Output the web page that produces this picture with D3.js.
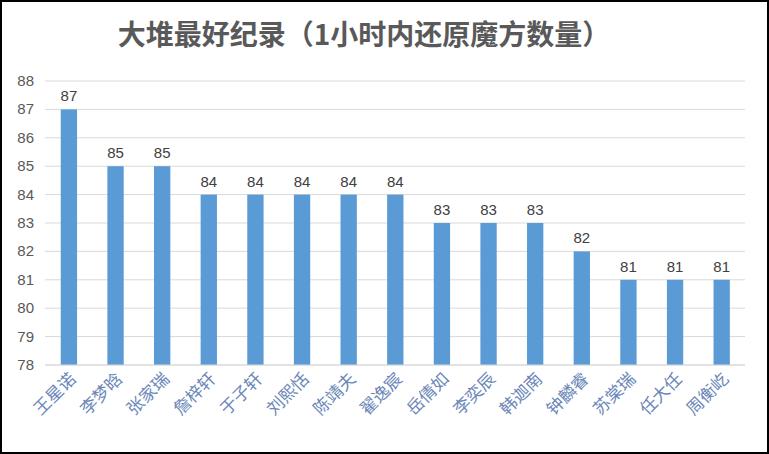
<!DOCTYPE html>
<html><head><meta charset="utf-8">
<script src="https://cdn.jsdelivr.net/npm/d3@7"></script>
<style>body{margin:0;background:#fff}</style>
</head><body><svg></svg>
<script>
var names = ["王星诺","李梦晗","张家瑞","詹梓轩","于子轩","刘熙恬","陈靖夫","翟逸宸","岳倩如","李奕辰","韩迦南","钟麟睿","苏棠瑞","任大任","周衡屹"];
var scores = [87,85,85,84,84,84,84,84,83,83,83,82,81,81,81];
var yTicks = [78,79,80,81,82,83,84,85,86,87,88];

var W = 769, H = 454;
var svg = d3.select("svg").attr("width", W).attr("height", H);

svg.append("rect").attr("x", 1).attr("y", 1).attr("width", W - 2).attr("height", H - 2)
    .attr("fill", "#fff").attr("stroke", "#000").attr("stroke-width", 2);

svg.append("text").attr("x", 364).attr("y", 45).attr("text-anchor", "middle")
    .attr("font-family", "Noto Sans CJK SC").attr("font-size", 28).attr("font-weight", "bold")
    .attr("fill", "#595959").text("大堆最好纪录（1小时内还原魔方数量）");

var x = d3.scaleBand().domain(names).range([45.6, 745]).paddingInner(0.65).paddingOuter(0.325);
var y = d3.scaleLinear().domain([78, 88]).range([365, 81]);

// gridlines
svg.append("g").selectAll("line").data(yTicks).enter().append("line")
    .attr("x1", 45).attr("x2", 745)
    .attr("y1", function(d){ return y(d); }).attr("y2", function(d){ return y(d); })
    .attr("stroke", "#d9d9d9").attr("stroke-width", 1);

svg.append("g").selectAll("text").data(yTicks).enter().append("text")
    .attr("x", 34).attr("y", function(d){ return y(d) + 5; })
    .attr("text-anchor", "end").attr("font-family", "Liberation Sans").attr("font-size", 15)
    .attr("fill", "#595959").text(function(d){ return d; });

svg.append("g").selectAll("rect").data(scores).enter().append("rect")
    .attr("x", function(d, i){ return x(names[i]); })
    .attr("width", x.bandwidth())
    .attr("y", function(d){ return y(d); })
    .attr("height", function(d){ return y(78) - y(d); })
    .attr("fill", "#5b9bd5");

svg.append("g").selectAll("text").data(scores).enter().append("text")
    .attr("x", function(d, i){ return x(names[i]) + x.bandwidth() / 2; })
    .attr("y", function(d){ return y(d) - 8; })
    .attr("text-anchor", "middle").attr("font-family", "Liberation Sans").attr("font-size", 15)
    .attr("fill", "#404040").text(function(d){ return d; });

// baseline
svg.append("line").attr("x1", 45).attr("x2", 745).attr("y1", y(78)).attr("y2", y(78))
    .attr("stroke", "#d9d9d9");

svg.append("g").selectAll("text").data(names).enter().append("text")
    .attr("transform", function(d){
        return "translate(" + (x(d) + x.bandwidth() / 2 + 8) + ",380) rotate(-45)";
    })
    .attr("text-anchor", "end").attr("font-family", "Noto Sans CJK SC").attr("font-size", 17)
    .attr("fill", "#6b87b8").text(function(d){ return d; });
</script>
</body></html>
